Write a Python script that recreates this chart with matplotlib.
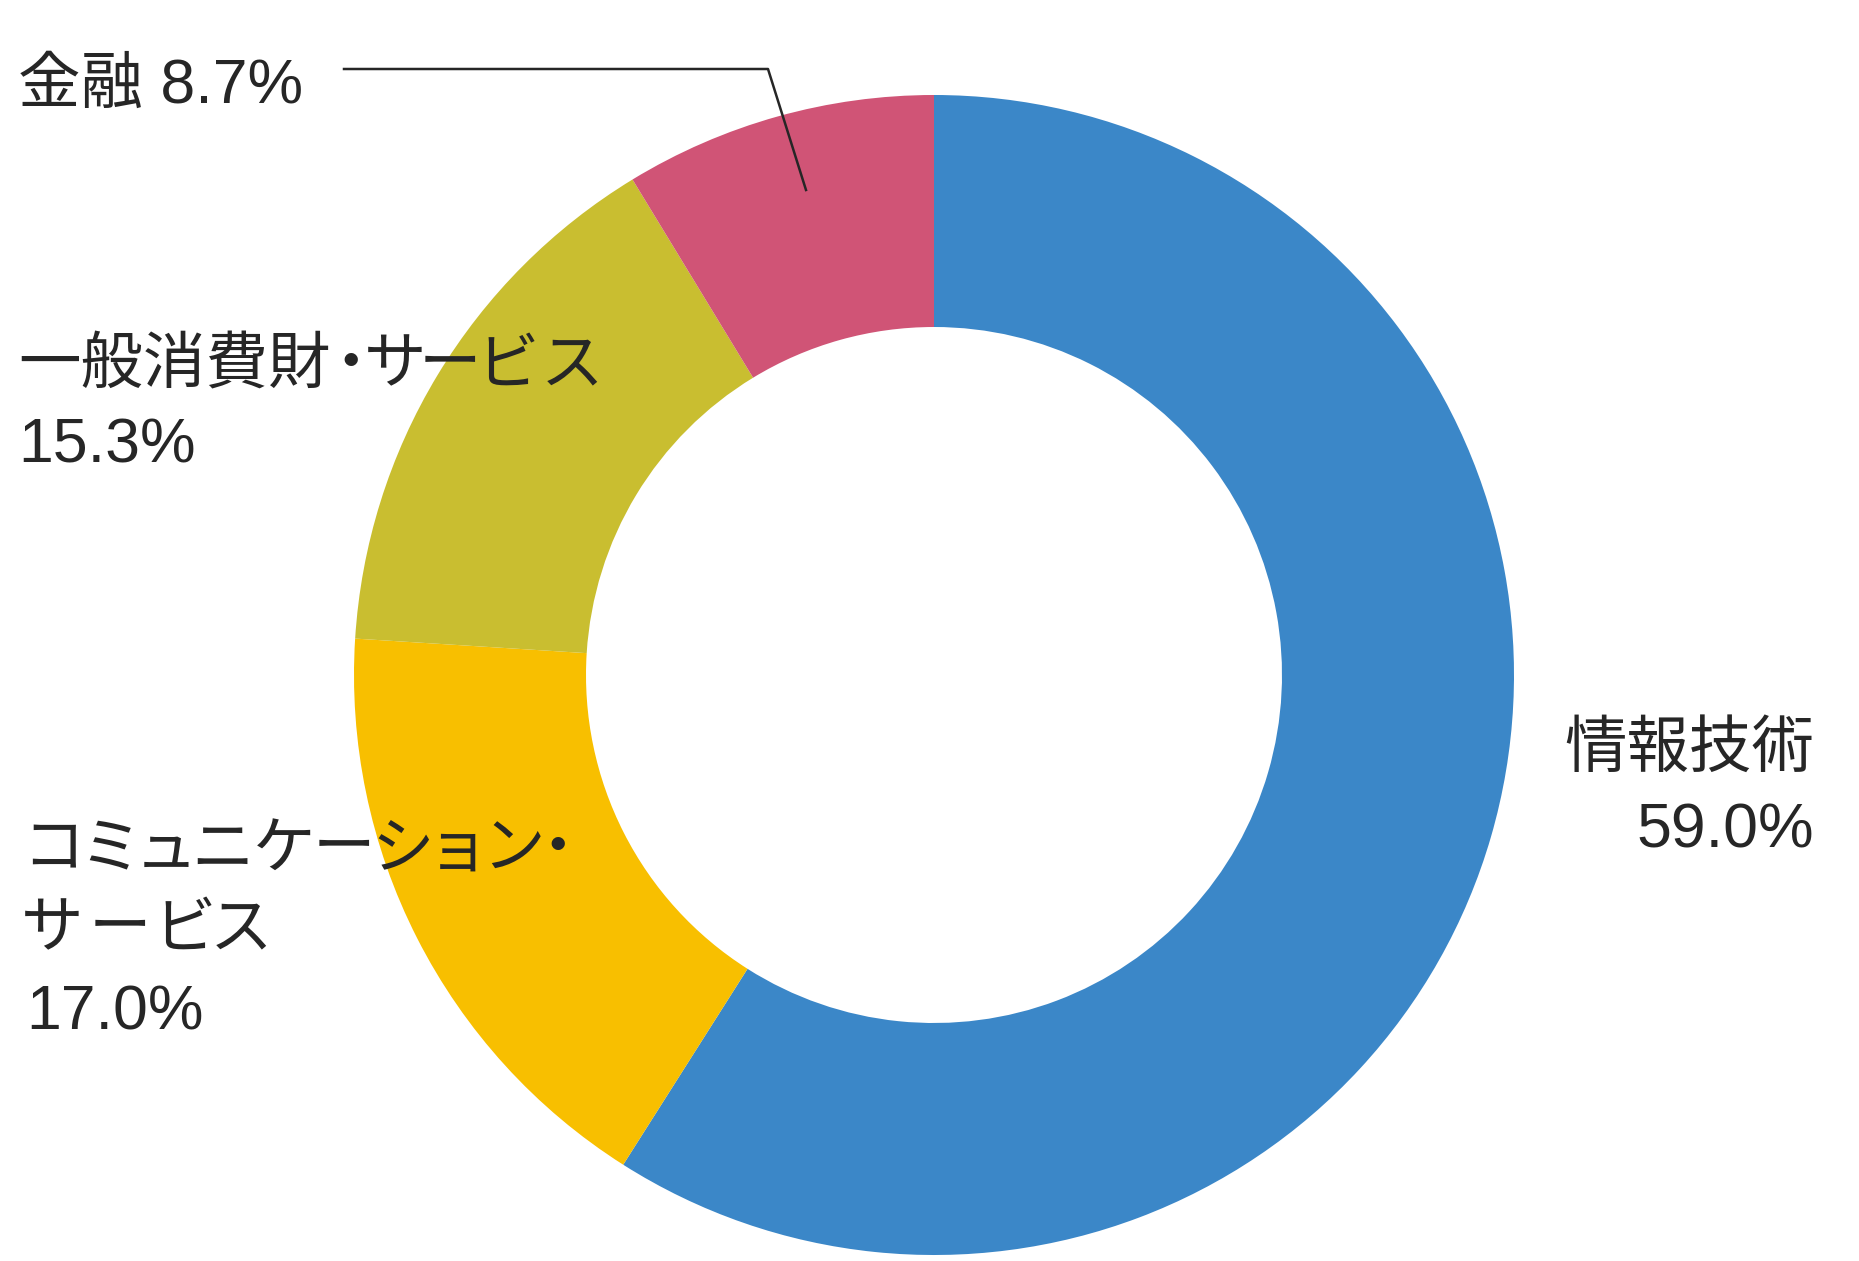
import matplotlib
matplotlib.use("Agg")
import matplotlib.pyplot as plt

sectors = ["情報技術", "コミュニケーション・サービス", "一般消費財・サービス", "金融"]
shares = [59.0, 17.0, 15.3, 8.7]
colors = ["#3B87C8", "#F8BF00", "#C9BE30", "#D05476"]

W, H = 1859, 1261
fig = plt.figure(figsize=(W / 100, H / 100), dpi=100)
ax = fig.add_axes([0, 0, 1, 1])

cx, cy, R = 934, 675, 580
# y axis is inverted below: start at -90 (appears at top), counterclock in data = clockwise on screen
ax.pie(shares, colors=colors, startangle=-90, counterclock=True,
       center=(cx, cy), radius=R, frame=True,
       wedgeprops=dict(width=R * 0.4, linewidth=0))
ax.set_xlim(0, W)
ax.set_ylim(H, 0)
ax.set_aspect("equal")
ax.axis("off")

fam = ["Liberation Sans", "Noto Sans CJK JP"]
tc = "#262626"
fs = 45
dy = 5

def txt(x, y, t, ha="left"):
    ax.text(x, y + dy, t, ha=ha, va="center", fontsize=fs, color=tc, family=fam)

def chars(centers, y, t):
    # proportional kana spacing like the reference
    for ch, xc in zip(t, centers):
        ax.text(xc, y + dy, ch, ha="center", va="center", fontsize=fs, color=tc, family=fam)

# 情報技術
txt(1814, 745, sectors[0], ha="right")
txt(1814, 826, f"{shares[0]:.1f}%", ha="right")

# コミュニケーション・サービス
comm1, comm2 = sectors[1][:10], sectors[1][10:]
chars([53, 111, 166, 223, 284, 344, 403, 458, 513, 558], 846, comm1)
chars([52, 120, 185, 241], 926, comm2)
txt(26, 1008, f"{shares[1]:.1f}%")

# 一般消費財・サービス
cons_k, cons_rest = sectors[2][:5], sectors[2][5:]
txt(18, 362, cons_k)
chars([351, 395, 450, 508, 572], 362, cons_rest)
txt(18, 441, f"{shares[2]:.1f}%")

# 金融
txt(18, 81, f"{sectors[3]} {shares[3]:.1f}%")
ax.plot([344, 768, 806], [69, 69, 190], color="#262626", lw=1.8)

fig.savefig("out.png", dpi=100)
